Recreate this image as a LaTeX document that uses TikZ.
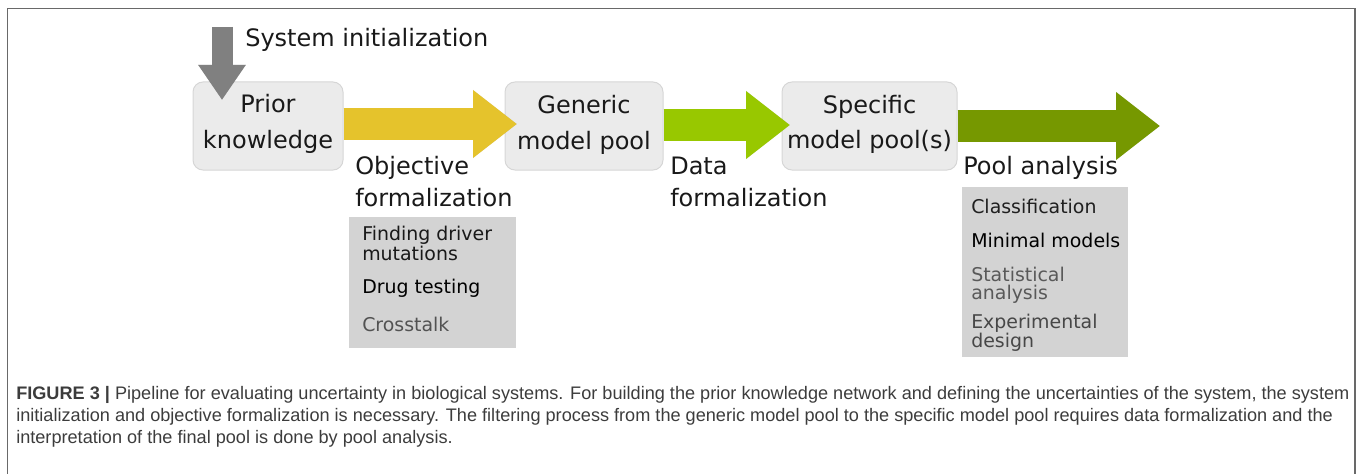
\documentclass[tikz,border=0pt]{standalone}
\usepackage{fontspec}
\setmainfont{DejaVu Sans}
\newfontfamily\capfont[FakeStretch=1.0]{Liberation Sans}
\usetikzlibrary{arrows.meta}
\definecolor{yellowc}{RGB}{229,195,44}
\definecolor{lgreen}{RGB}{152,200,0}
\definecolor{dgreen}{RGB}{118,152,0}
\definecolor{arrgray}{RGB}{128,128,128}
\definecolor{boxfill}{RGB}{235,235,235}
\definecolor{boxline}{RGB}{214,214,214}
\definecolor{listfill}{RGB}{211,211,211}
\definecolor{framec}{RGB}{105,105,105}
\definecolor{captxt}{RGB}{60,60,60}
\tikzset{
  stagebox/.style={draw=boxline, line width=0.75pt, fill=boxfill, rounded corners=7.5pt, inner sep=0pt},
  listbox/.style={fill=listfill, inner sep=0pt},
  lbl/.style={anchor=base west, inner sep=0pt, font=\fontsize{18}{23}\selectfont, text=black!90},
  clbl/.style={anchor=base, inner sep=0pt, font=\fontsize{18}{23}\selectfont, text=black!90},
  listitem/.style={anchor=base west, inner sep=0pt, font=\fontsize{14.2}{18}\selectfont},
  fatarrow/.style={line width=24pt, -{Triangle[width=48.75pt,length=33pt]}},
  downarrow/.style={line width=15.75pt, -{Triangle[width=33.75pt,length=26.25pt]}},
  captext/.style={anchor=base west, inner sep=0pt, font=\capfont\fontsize{13.6}{16}\selectfont, text=captxt},
}
\begin{document}
\begin{tikzpicture}[x=0.75pt,y=-0.75pt]
\useasboundingbox (0,0) rectangle (1358,474);
% frame
\draw[framec, line width=1.2pt] (7.5,480) -- (7.5,8.5) -- (1355,8.5) -- (1355,480);

% stage boxes
\node[stagebox, minimum width=112.5pt, minimum height=66pt] (prior) at (268,126) {};
\node[stagebox, minimum width=118.5pt, minimum height=66pt] (generic) at (584,126) {};
\node[stagebox, minimum width=131.25pt, minimum height=66pt] (specific) at (869.5,126) {};

% labels inside boxes
\node[clbl] (p1) at (268,113) {Prior};
\node[clbl] (p2) at (268,148) {knowledge};
\node[clbl] (g1) at (584,114) {Generic};
\node[clbl] (g2) at (584,149) {model pool};
\node[clbl] (s1) at (869.5,114) {Specific};
\node[clbl] (s2) at (869.5,148) {model pool(s)};

% arrow end coordinates
\coordinate (top) at (222,27);
\coordinate (tdown) at (222,100);
\coordinate (t1) at (517,124);
\coordinate (t2) at (790,125);
\coordinate (t3) at (1160,126);

% shadows
\draw[black, opacity=0.15, downarrow, shift={(3,4)}] (top) -- (tdown);
\draw[black, opacity=0.15, fatarrow, shift={(3,4)}] (prior.east |- t1) -- (t1);
\draw[black, opacity=0.15, fatarrow, shift={(3,4)}] (generic.east |- t2) -- (t2);
\draw[black, opacity=0.15, fatarrow, shift={(3,4)}] (specific.east |- t3) -- (t3);

% arrows
\draw[arrgray, downarrow] (top) -- (tdown);
\draw[yellowc, fatarrow] (prior.east |- t1) -- (t1);
\draw[lgreen, fatarrow] (generic.east |- t2) -- (t2);
\draw[dgreen, fatarrow] (specific.east |- t3) -- (t3);

% step labels
\node[lbl] (sys) at (245,47) {System initialization};
\node[lbl] (obj1) at (355,175) {Objective};
\node[lbl] (obj2) at (355,206) {formalization};
\node[lbl] (dat1) at (670,175) {Data};
\node[lbl] (dat2) at (670,206) {formalization};
\node[lbl] (pool) at (963,175) {Pool analysis};

% list boxes
\node[listbox, minimum width=125.25pt, minimum height=98.25pt] (llist) at (432.5,282.5) {};
\node[listbox, minimum width=124.5pt, minimum height=127.5pt] (rlist) at (1045,272) {};

\node[listitem, text=black!90] (i1) at (362,240) {Finding driver};
\node[listitem, text=black!90] (i1b) at (362,260) {mutations};
\node[listitem, text=black] (i2) at (362,293) {Drug testing};
\node[listitem, text=black!68] (i3) at (362,331) {Crosstalk};

\node[listitem, text=black!88] (r1) at (971,213) {Classification};
\node[listitem, text=black] (r2) at (971,247) {Minimal models};
\node[listitem, text=black!65] (r3) at (971,281) {Statistical};
\node[listitem, text=black!65] (r3b) at (971,299) {analysis};
\node[listitem, text=black!72] (r4) at (971,328) {Experimental};
\node[listitem, text=black!72] (r4b) at (971,347) {design};

% caption
\node[captext] (c1) at (16,399) {\textbf{FIGURE 3 |} Pipeline for evaluating uncertainty in biological systems. For building the prior knowledge network and defining the uncertainties of the system, the system};
\node[captext] (c2) at (16,421) {initialization and objective formalization is necessary. The filtering process from the generic model pool to the specific model pool requires data formalization and the};
\node[captext] (c3) at (16,443) {interpretation of the final pool is done by pool analysis.};
\end{tikzpicture}
\end{document}
